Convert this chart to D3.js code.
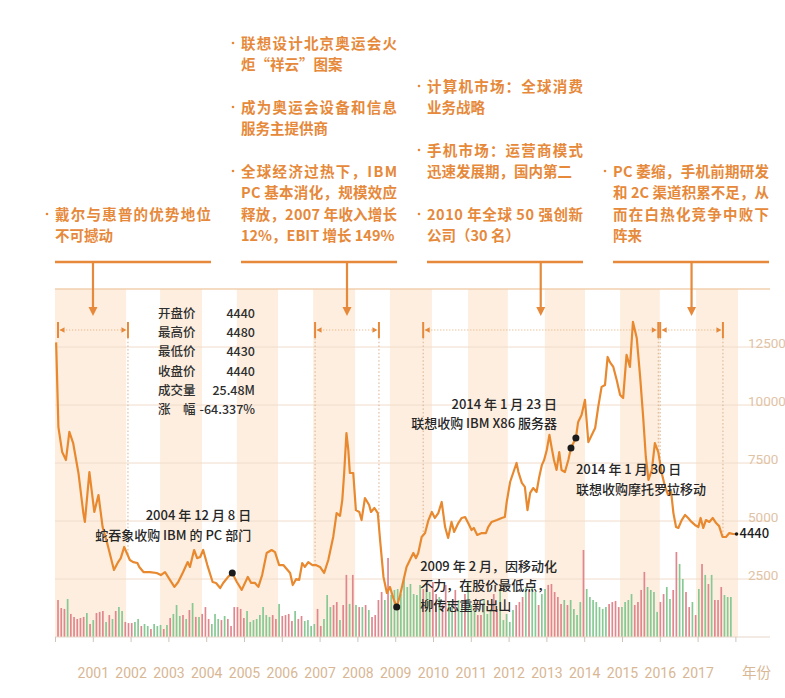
<!DOCTYPE html>
<html><head><meta charset="utf-8">
<script src="https://cdn.jsdelivr.net/npm/d3@7"></script>
<style>
html,body{margin:0;padding:0;background:#fff;}
svg{display:block;}
</style></head><body>
<svg id="c" width="785" height="698"></svg>
<script>
// ---------------- data ----------------
const yearLabels = [2001,2002,2003,2004,2005,2006,2007,2008,2009,2010,2011,2012,2013,2014,2015,2016,2017];
const yearTicks = [2000,2001,2002,2003,2004,2005,2006,2007,2008,2009,2010,2011,2012,2013,2014,2015,2016,2017,2018];
const priceTicks = [2500,5000,7500,10000,12500];

const priceDates = [
2000.03,2000.09,2000.19,2000.29,2000.38,2000.48,2000.62,2000.75,2000.79,2000.91,
2001.04,2001.15,2001.26,2001.38,2001.56,2001.67,2001.74,2001.83,2001.98,2002.07,
2002.18,2002.23,2002.34,2002.51,2002.69,2002.80,2002.91,2003.04,2003.16,2003.26,
2003.39,2003.51,2003.57,2003.68,2003.76,2003.84,2003.92,2004.03,2004.17,2004.26,
2004.37,2004.45,2004.58,2004.69,2004.81,2004.94,2005.10,2005.19,2005.29,2005.38,
2005.48,2005.60,2005.73,2005.82,2005.93,2006.04,2006.13,2006.22,2006.29,2006.38,
2006.46,2006.54,2006.61,2006.70,2006.81,2006.90,2007.01,2007.12,2007.23,2007.36,
2007.45,2007.54,2007.60,2007.65,2007.71,2007.76,2007.80,2007.89,2007.96,2008.05,
2008.11,2008.20,2008.31,2008.36,2008.45,2008.54,2008.60,2008.69,2008.78,2008.86,
2008.95,2009.04,2009.13,2009.30,2009.48,2009.55,2009.61,2009.70,2009.79,2009.88,
2009.97,2010.05,2010.14,2010.23,2010.32,2010.40,2010.49,2010.56,2010.67,2010.76,
2010.85,2010.93,2011.02,2011.08,2011.17,2011.29,2011.40,2011.46,2011.55,2011.69,
2011.82,2011.90,2011.95,2012.04,2012.12,2012.21,2012.26,2012.35,2012.43,2012.50,
2012.57,2012.65,2012.74,2012.81,2012.88,2012.94,2013.01,2013.08,2013.14,2013.20,
2013.27,2013.34,2013.40,2013.49,2013.58,2013.65,2013.78,2013.84,2013.93,2014.02,
2014.11,2014.20,2014.29,2014.37,2014.46,2014.55,2014.62,2014.68,2014.77,2014.86,
2014.95,2015.03,2015.12,2015.21,2015.29,2015.39,2015.48,2015.56,2015.63,2015.70,
2015.79,2015.87,2015.96,2016.05,2016.14,2016.22,2016.30,2016.36,2016.43,2016.49,
2016.58,2016.67,2016.75,2016.84,2016.93,2017.02,2017.08,2017.15,2017.22,2017.31,
2017.40,2017.49,2017.57,2017.66,2017.75,2017.84,2017.94,2018.03];

const priceValues = [
12700,9050,7970,7630,8840,8360,7070,5340,4960,7110,
5390,6120,4740,4050,2890,3230,3400,3880,3320,3230,
3190,3020,2800,2800,2760,2670,2800,2460,2160,2370,
2800,3230,3020,3750,3400,3450,3750,3100,2370,2330,
2110,2330,2590,2760,2370,2030,2590,2330,2330,2160,
2670,3620,3750,3660,3100,3100,2930,2760,2240,2500,
2460,3190,3020,3230,3100,3100,3020,2760,3320,4310,
5340,5220,5900,7070,8790,8060,7070,7070,5470,5390,
5040,5990,5690,5390,5560,5340,4180,2590,1900,2160,
1680,1290,1810,3020,3620,3400,3620,4310,4480,5040,
5390,5130,5340,5820,4740,4270,4960,4530,4910,5130,
5170,4910,4610,4700,4400,4480,4480,4740,4960,5040,
5130,5170,5820,6680,7070,7500,7110,6640,6470,5470,
6210,6420,6250,6900,7410,7630,8060,8710,8150,7630,
7200,7970,7200,7110,7630,8150,8580,9270,9570,10220,
8400,8710,9010,9910,10780,10860,12070,11850,11640,11080,
10430,10300,12160,11640,13580,12890,11210,9480,7760,6770,
7200,8360,7970,7070,6470,6120,6250,5340,4740,4700,
5040,5260,5130,4960,4830,4740,5130,4700,5040,4960,
5130,4910,4780,4310,4310,4480,4440,4440];

// monthly volume (million shares), first and last bar dates
const volumeFirst = 2000.08, volumeLast = 2017.88;
const volumeValues = [
23.6,18.5,17.9,24.2,14.7,12.8,11.5,12.1,12.8,15.3,
8.3,10.8,15.3,16.0,16.6,9.6,14.0,11.5,16.6,19.1,
16.6,9.6,8.9,8.9,9.6,11.5,7.0,8.3,7.0,5.1,
8.3,7.0,7.7,5.1,7.7,12.1,14.7,20.4,13.4,14.0,
11.5,17.2,21.7,12.8,12.8,14.7,19.1,11.5,8.3,14.7,
11.5,10.8,13.4,11.5,7.0,19.1,19.1,17.9,12.1,16.6,
9.6,10.8,11.5,14.0,19.1,14.0,12.8,14.0,11.5,21.1,
13.4,14.0,14.7,10.2,16.6,11.5,13.4,10.2,10.8,7.0,
8.3,17.9,7.0,11.5,26.8,19.1,20.4,22.3,10.8,20.4,
39.6,21.1,39.6,20.4,19.1,19.1,20.4,17.2,12.8,14.0,
23.6,28.7,23.6,50.4,26.8,30.0,
30.6,27.4,37.0,31.9,33.8,27.4,26.8,33.2,30.6,30.6,
28.7,35.1,27.4,25.5,20.4,33.2,22.3,20.4,30.0,23.6,
19.1,27.4,35.1,20.4,17.2,14.0,14.0,24.2,14.7,17.9,
27.4,17.9,30.6,10.8,14.7,9.6,17.2,20.4,22.3,25.5,
31.9,30.0,31.9,28.7,20.4,27.4,30.6,33.2,33.8,28.7,
25.5,21.1,23.6,20.4,23.6,17.9,14.0,22.3,55.5,30.6,
25.5,23.6,22.3,19.1,17.9,19.1,21.1,22.3,23.0,19.1,
19.1,22.3,23.6,27.4,20.4,22.3,30.0,41.5,31.9,30.0,
28.7,16.0,22.3,27.4,31.9,24.2,30.0,54.2,46.6,37.0,
28.7,19.1,22.3,14.0,30.6,46.6,39.6,33.8,39.6,23.6,
23.6,31.9,26.8,25.5,25.48];
// r = up month, g = down month
const volumeDirection = (
"rrrgrrrrrg"+"rgrrrgrgrg"+"grrrggrggr"+"gggrgrgggr"+"grgrgrrrgg"+
"grgrrrrrrg"+"gggggggrrg"+"rrrrgrrggg"+"grrgggrrgr"+"rgrgrgrgrr"+"rrgrgg"+
"ggggggggrg"+"grrgrrggrg"+"grgggrrggg"+"rrgggggrrr"+"grggrggrrr"+
"rrgrggggrg"+"ggggggrrrr"+"ggggrrrrgg"+"ggrrggrrgg"+"rrgrgrgrgr"+"rrggg").split("");

// shaded alternating periods (years)
const bandRanges = [[2000,2001.88],[2002.78,2003.89],[2004.81,2005.90],[2006.83,2007.94],
  [2008.86,2009.97],[2010.93,2011.98],[2012.96,2014.02],[2014.95,2016.0],[2016.96,2018.07]];
// bracketed stages
const stageRanges = [[2000.08,2001.93],[2006.88,2008.57],[2009.74,2015.96],[2016.01,2017.67]];

const stageNotes = [
 [["戴尔与惠普的优势地位","不可撼动"]],
 [["联想设计北京奥运会火","炬“祥云”图案"],["成为奥运会设备和信息","服务主提供商"],
  ["全球经济过热下，IBM","PC 基本消化，规模效应","释放，2007 年收入增长","12%，EBIT 增长 149%"]],
 [["计算机市场：全球消费","业务战略"],["手机市场：运营商模式","迅速发展期，国内第二"],
  ["2010 年全球 50 强创新","公司（30 名）"]],
 [["PC 萎缩，手机前期研发","和 2C 渠道积累不足，从","而在白热化竞争中败下","阵来"]]
];

const infoLabels = ["开盘价","最高价","最低价","收盘价","成交量","涨　幅"];
const infoValues = ["4440","4480","4430","4440","25.48M","-64.337%"];

const eventDates = [2004.69, 2009.04, 2013.65, 2013.78];
const eventNotes = [
 {date:2005.19, value:5040, anchor:"end", lines:["2004 年 12 月 8 日","蛇吞象收购 IBM 的 PC 部门"]},
 {date:2009.66, value:2845, anchor:"start", lines:["2009 年 2 月，因移动化","不力，在股价最低点，","柳传志重新出山"]},
 {date:2013.28, value:9830, anchor:"end", lines:["2014 年 1 月 23 日","联想收购 IBM X86 服务器"]},
 {date:2013.78, value:7025, anchor:"start", lines:["2014 年 1 月 30 日","联想收购摩托罗拉移动"]}
];

// ---------------- drawing ----------------
const ORANGE = "#e6893a";
const CJK = "'Noto Sans CJK SC','Noto Sans',sans-serif";
const NUM = "Roboto,'Noto Sans',sans-serif";
const plotLeft = 55, plotRight = 770, plotTop = 289, plotBottom = 637;

const svg = d3.select("#c");
const x = d3.scaleLinear().domain([2000, 2018]).range([plotLeft, plotLeft + 18 * 37.8]);
const y = d3.scaleLinear().domain([0, 15000]).range([plotBottom, plotTop]);
const yv = d3.scaleLinear().domain([0, 220]).range([plotBottom, plotTop + 3]);
const xv = d3.scalePoint().domain(d3.range(volumeValues.length)).range([x(volumeFirst), x(volumeLast)]);

function priceAt(t){
  const i = d3.bisectLeft(priceDates, t);
  if (i <= 0) return priceValues[0];
  if (i >= priceDates.length) return priceValues[priceValues.length-1];
  const t0 = priceDates[i-1], t1 = priceDates[i];
  return priceValues[i-1] + (priceValues[i]-priceValues[i-1])*(t-t0)/(t1-t0);
}

// bands
svg.append("g").selectAll("rect").data(bandRanges).join("rect")
  .attr("x", d => x(d[0])).attr("width", d => x(d[1]) - x(d[0]))
  .attr("y", plotTop).attr("height", plotBottom - plotTop)
  .attr("fill", "#fdeedf");

// grid
svg.append("g").selectAll("line").data(priceTicks).join("line")
  .attr("x1", plotLeft).attr("x2", plotRight)
  .attr("y1", d => y(d)).attr("y2", d => y(d))
  .attr("stroke", "#f0dccb").attr("stroke-width", 1);
svg.append("line").attr("x1", plotLeft).attr("x2", plotRight)
  .attr("y1", y(15000)).attr("y2", y(15000))
  .attr("stroke", "#f0cfae").attr("stroke-width", 1.5);

// right axis labels
const yAxis = svg.append("g").attr("transform", "translate(748,0)")
  .call(d3.axisRight(y).tickValues(priceTicks).tickSize(0).tickPadding(0).tickFormat(d3.format("d")));
yAxis.select(".domain").remove();
yAxis.selectAll("text").attr("fill", "#dfc3a6").attr("font-family", NUM)
  .attr("font-size", 13.5).attr("dy", "0.02em").attr("text-anchor", "start");

// volume bars
svg.append("g").selectAll("line").data(volumeValues).join("line")
  .attr("x1", (d,i) => xv(i)).attr("x2", (d,i) => xv(i))
  .attr("y1", yv(0)).attr("y2", d => yv(d))
  .attr("stroke", (d,i) => volumeDirection[i] === "r" ? "#e0868d" : "#86c993")
  .attr("stroke-width", 1.7);

// bottom axis
svg.append("line").attr("x1", plotLeft).attr("x2", plotRight)
  .attr("y1", plotBottom).attr("y2", plotBottom)
  .attr("stroke", "#e5d6c8").attr("stroke-width", 1.2);
const xAxis = svg.append("g").attr("transform", `translate(0,${plotBottom})`)
  .call(d3.axisBottom(x).tickValues(yearTicks).tickSize(5).tickPadding(26)
    .tickFormat(d => yearLabels.includes(d) ? String(d) : ""));
xAxis.select(".domain").remove();
xAxis.selectAll(".tick line").attr("stroke", "#cfc4ba");
xAxis.selectAll("text").attr("fill", "#d8b795").attr("font-family", NUM).attr("font-size", 14);
svg.append("text").attr("x", 742).attr("y", 678).text("年份")
  .attr("fill", "#d8b795").attr("font-family", CJK).attr("font-size", 14.5);

// stage brackets
const gStage = svg.append("g");
stageRanges.forEach((r, k) => {
  const xa = x(r[0]), xb = x(r[1]);
  gStage.append("line").attr("x1", xa+2).attr("x2", xb-2).attr("y1", 330).attr("y2", 330)
    .attr("stroke", "#e9b68a").attr("stroke-width", 1).attr("stroke-dasharray", "1.2,1.8");
  [xa, xb].forEach((xx, j) => {
    if (k > 0 || j > 0) {
      gStage.append("line").attr("x1", xx).attr("x2", xx).attr("y1", 338)
        .attr("y2", y(priceAt(j ? r[1] : r[0])))
        .attr("stroke", "#d9b08b").attr("stroke-width", 1).attr("stroke-dasharray", "1.5,2.2");
    }
    gStage.append("line").attr("x1", xx).attr("x2", xx).attr("y1", 322).attr("y2", 338)
      .attr("stroke", ORANGE).attr("stroke-width", 2);
    const s = j ? -1 : 1;
    gStage.append("path")
      .attr("d", `M${xx + s*1.5},330 L${xx + s*6.5},327.3 L${xx + s*6.5},332.7 Z`)
      .attr("fill", ORANGE);
  });
});

// price line
svg.append("path")
  .datum(priceDates.map((d,i) => [d, priceValues[i]]))
  .attr("d", d3.line().x(d => x(d[0])).y(d => y(d[1])))
  .attr("fill", "none").attr("stroke", "#e8892f").attr("stroke-width", 2.2)
  .attr("stroke-linejoin", "round");

// event dots
svg.append("g").selectAll("circle").data(eventDates).join("circle")
  .attr("cx", d => x(d)).attr("cy", d => y(priceAt(d))).attr("r", 3.5).attr("fill", "#1b1b1b");

// last price label
const lastDate = priceDates[priceDates.length-1], lastVal = priceValues[priceValues.length-1];
svg.append("circle").attr("cx", x(lastDate)).attr("cy", y(lastVal)).attr("r", 1.8).attr("fill", "#1b1b1b");
svg.append("text").attr("x", x(lastDate) + 3).attr("y", y(lastVal) + 4.5).text(String(lastVal))
  .attr("fill", "#1b1b1b").attr("font-family", CJK).attr("font-size", 13).attr("font-weight", 500);

// info box
const gInfo = svg.append("g").attr("font-family", CJK).attr("font-size", 12.5)
  .attr("fill", "#2e2e2e").attr("font-weight", 500);
infoLabels.forEach((t, i) => {
  gInfo.append("text").attr("x", 158).attr("y", 318 + i*19.2).text(t);
  gInfo.append("text").attr("x", 255).attr("y", 318 + i*19.2).attr("text-anchor", "end").text(infoValues[i]);
});

// event notes
eventNotes.forEach(n => {
  const g = svg.append("g").attr("font-family", CJK).attr("font-size", 13)
    .attr("fill", "#262626").attr("font-weight", 500).attr("text-anchor", n.anchor);
  n.lines.forEach((l, i) => {
    g.append("text").attr("x", x(n.date)).attr("y", y(n.value) + i*19.5).text(l);
  });
});

// top stage notes
const colLeft = [55, 241, 427, 613], colW = 156, lineGap = 21.5, paraGap = 42.5, bottomBase = 241;
stageNotes.forEach((paras, c) => {
  const g = svg.append("g");
  const x0 = colLeft[c];
  const rows = [];
  let yy = bottomBase;
  for (let p = paras.length - 1; p >= 0; p--) {
    const ls = paras[p];
    for (let i = ls.length - 1; i >= 0; i--) {
      rows.push({t: ls[i], y: yy, first: i === 0, last: i === ls.length - 1});
      yy -= (i === 0) ? paraGap : lineGap;
    }
  }
  rows.forEach(r => {
    const t = g.append("text").attr("x", x0).attr("y", r.y).text(r.t)
      .attr("fill", ORANGE).attr("font-family", CJK).attr("font-size", 14.5).attr("font-weight", 700);
    if (!r.last) t.attr("textLength", colW).attr("lengthAdjust", "spacing");
    if (r.first) g.append("circle").attr("cx", x0 - 8).attr("cy", r.y - 5.5).attr("r", 1.3).attr("fill", ORANGE);
  });
  g.append("line").attr("x1", x0).attr("x2", x0 + colW).attr("y1", 262).attr("y2", 262)
    .attr("stroke", ORANGE).attr("stroke-width", 2.5);
  const xm = x((stageRanges[c][0] + stageRanges[c][1]) / 2);
  g.append("line").attr("x1", xm).attr("x2", xm).attr("y1", 262).attr("y2", 309)
    .attr("stroke", ORANGE).attr("stroke-width", 2.2);
  g.append("path").attr("d", `M${xm-4.5},307 L${xm+4.5},307 L${xm},316 Z`).attr("fill", ORANGE);
});
</script>
</body></html>
